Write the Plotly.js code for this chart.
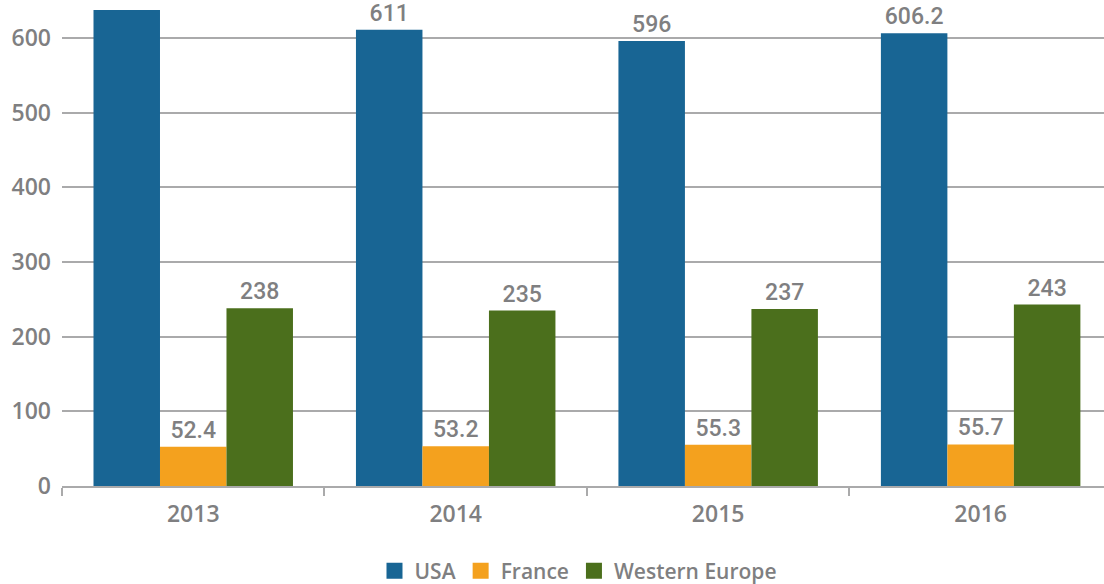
<!DOCTYPE html>
<html>
<head>
<meta charset="utf-8">
<script src="https://cdn.plot.ly/plotly-3.0.1.min.js"></script>
<style>html,body{margin:0;padding:0;background:#fff;}#chart{width:1104px;height:584px;}</style>
</head>
<body>
<div id="chart"></div>
<script>
const years = ['2013', '2014', '2015', '2016'];
const usa = [650, 611, 596, 606.2];
const france = [52.4, 53.2, 55.3, 55.7];
const westernEurope = [238, 235, 237, 243];
const yTicks = [0, 100, 200, 300, 400, 500, 600];
const yMax = 637.5;

const FONT = 'Open Sans, Liberation Sans, Arial, sans-serif';
const LABEL_FONT = 'Roboto, Liberation Sans, Arial, sans-serif';
const GREY = '#7f7f81';
const labelFont = {family: LABEL_FONT, size: 23, color: GREY, weight: 500};

function series(name, vals, color) {
  return {
    type: 'bar', name: name, x: years, y: vals,
    marker: {color: color},
    text: vals.map(v => v > yMax ? '' : String(v)),
    textposition: 'outside',
    cliponaxis: false,
    textfont: labelFont,
    showlegend: false,
    hoverinfo: 'x+y+name'
  };
}
function legendEntry(name, color) {
  return {type: 'scatter', mode: 'markers', name: name, x: [null], y: [null],
          marker: {symbol: 'square', size: 20, color: color}, hoverinfo: 'skip'};
}

const colors = {usa: '#186594', france: '#f4a11e', we: '#4b6f1c'};
const data = [
  series('USA', usa, colors.usa),
  series('France', france, colors.france),
  series('Western Europe', westernEurope, colors.we),
  legendEntry('USA', colors.usa),
  legendEntry('France', colors.france),
  legendEntry('Western Europe', colors.we)
];

const layout = {
  width: 1104, height: 584,
  margin: {l: 62, r: 0, t: 10, b: 98},
  paper_bgcolor: '#fff', plot_bgcolor: '#fff',
  barmode: 'group', bargap: 0.24, bargroupgap: 0,
  showlegend: true,
  legend: {orientation: 'h', x: 0.524, xanchor: 'center', xref: 'container',
           y: 0.022, yanchor: 'middle', yref: 'container',
           font: {family: FONT, size: 21, color: GREY, weight: 600},
           itemsizing: 'trace', tracegroupgap: 0, itemwidth: 30},
  xaxis: {
    type: 'category', range: [-0.5, 3.47], automargin: false, fixedrange: true,
    showline: true, linecolor: '#aaaaab', linewidth: 2,
    ticks: 'outside', tickson: 'boundaries', ticklen: 8, tickwidth: 2, tickcolor: '#aaaaab',
    showgrid: false, ticklabelstandoff: 6,
    tickfont: {family: FONT, size: 23, color: GREY, weight: 600}
  },
  yaxis: {
    range: [0, yMax], tickvals: yTicks, ticktext: yTicks.map(String), automargin: false,
    showgrid: true, gridcolor: '#aaaaab', gridwidth: 2,
    zeroline: false, showline: false, ticks: '', ticklabelstandoff: 10,
    tickfont: {family: FONT, size: 23, color: GREY, weight: 600}
  }
};

Plotly.newPlot('chart', data, layout, {displayModeBar: false, responsive: false});
</script>
</body>
</html>
